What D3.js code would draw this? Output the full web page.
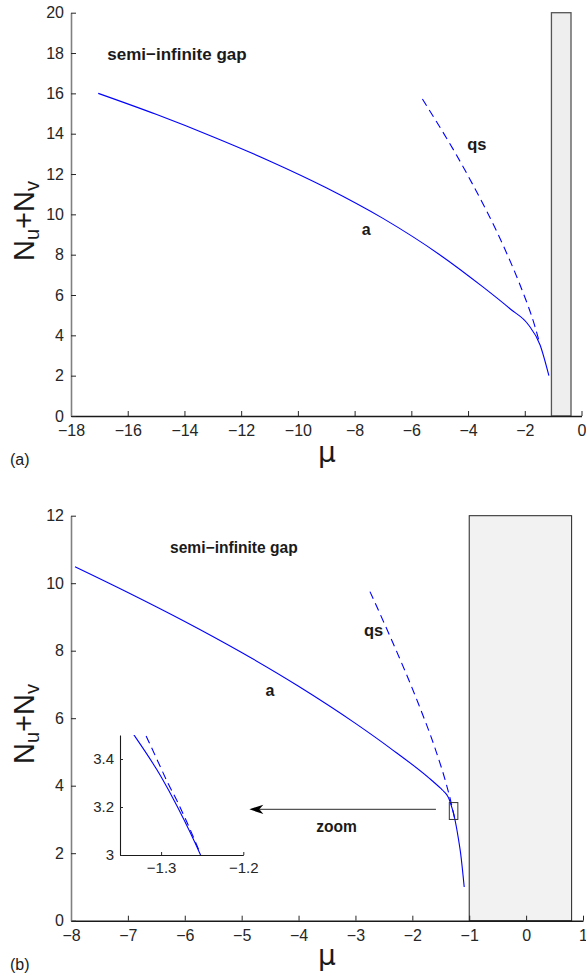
<!DOCTYPE html>
<html><head><meta charset="utf-8">
<script src="https://cdn.jsdelivr.net/npm/d3@7"></script>
<style>
body{margin:0;background:#fff}
svg{display:block}
text{font-family:"Liberation Sans",Arial,Helvetica,sans-serif}
</style></head><body>
<svg id="c" width="586" height="977"></svg>
<script>
// ---------------- data ----------------
const topXTicks = [-18,-16,-14,-12,-10,-8,-6,-4,-2,0];
const topYTicks = [0,2,4,6,8,10,12,14,16,18,20];
const botXTicks = [-8,-7,-6,-5,-4,-3,-2,-1,0,1];
const botYTicks = [0,2,4,6,8,10,12];
const insetXTicks = [-1.3,-1.2];
const insetYTicks = [3,3.2,3.4];

// panel (a)
const topA_mu  = [-17.04,-15,-13,-11,-9,-7,-5,-3.5,-2.5,-1.88,-1.46,-1.15];
const topA_N   = [16.0,14.96,13.85,12.65,11.32,9.80,8.0,6.425,5.295,4.54,3.52,2.0];
const topQS_mu = [-5.61,-4.05,-2.70,-2.19,-1.64,-1.47];
const topQS_N  = [15.72,12.04,8.27,6.58,4.43,3.58];
const topGapMu = [-1.06,-0.37];

// panel (b)
const botA_mu  = [-7.93,-7,-6,-5,-4,-3,-2.39,-1.7,-1.5,-1.44,-1.39,-1.36,-1.333,-1.3,-1.28,-1.252,-1.2,-1.15,-1.088];
const botA_N   = [10.49,9.727,8.867,7.947,6.947,5.847,5.115,4.218,3.918,3.82,3.72,3.63,3.5,3.326,3.2,3.0,2.53,1.98,1.0];
const botQS_mu = [-2.745,-2.4,-1.9,-1.6,-1.4,-1.33,-1.3147,-1.3039,-1.2918,-1.2798,-1.271,-1.262,-1.254];
const botQS_N  = [9.75,8.456,6.456,5.106,4.03,3.58,3.47,3.39,3.30,3.22,3.155,3.085,3.02];
const botGapMu = [-1,0.8];
const zoomMu = [-1.35,-1.2];
const zoomN  = [3,3.5];
const arrowMu = [-1.585,-4.865];
const arrowN = 3.3;

// ---------------- layout ----------------
const svg = d3.select("#c");
const blue = "#0000ff";
const tickColor = "#262626";

const xTop = d3.scaleLinear().domain([-18,0]).range([71,581.5]);
const yTop = d3.scaleLinear().domain([0,20]).range([416,12.7]);
const xBot = d3.scaleLinear().domain([-8,1]).range([71,583]);
const yBot = d3.scaleLinear().domain([0,12]).range([920.7,515.7]);
const xIn  = d3.scaleLinear().domain([-1.35,-1.2]).range([120,243.3]);
const yIn  = d3.scaleLinear().domain([3,3.5]).range([855,735]);

function zip(a,b){ return a.map((v,i)=>[v,b[i]]); }

function axes(g, x, y, xt, yt, fs, tickLen, xPad, yPad, yColor, yW, xColor, xW){
  const gx = g.append("g").attr("transform",`translate(0,${y.range()[0]})`)
    .call(d3.axisBottom(x).tickValues(xt).tickSizeInner(-tickLen).tickSizeOuter(0)
      .tickPadding(xPad).tickFormat(d3.format("")));
  const gy = g.append("g").attr("transform",`translate(${x.range()[0]},0)`)
    .call(d3.axisLeft(y).tickValues(yt).tickSizeInner(-tickLen).tickSizeOuter(0)
      .tickPadding(yPad).tickFormat(d3.format("")));
  [gx,gy].forEach(a=>{
    a.selectAll("text").attr("fill",tickColor).style("font-size",fs+"px")
      .style("font-family",'"Liberation Sans",Arial,sans-serif');
    a.selectAll(".tick line").attr("stroke",tickColor);
  });
  gx.select(".domain").attr("stroke",xColor).attr("stroke-width",xW);
  gy.select(".domain").attr("stroke",yColor).attr("stroke-width",yW);
}

function curve(g, x, y, mu, N, dash){
  const line = d3.line().x(d=>x(d[0])).y(d=>y(d[1])).curve(d3.curveMonotoneX);
  g.append("path").attr("d",line(zip(mu,N))).attr("fill","none")
    .attr("stroke",blue).attr("stroke-width",1.1)
    .attr("stroke-dasharray",dash?"8,5":null);
}

function label(g, x, y, txt, fs, bold, anchor){
  return g.append("text").attr("x",x).attr("y",y).text(txt)
    .attr("fill","#1a1a1a").style("font-size",fs+"px")
    .style("font-weight",bold?"bold":"normal")
    .attr("text-anchor",anchor||"start");
}

function yLabel(g, cx, cy){
  const t = g.append("text").attr("transform",`translate(${cx},${cy}) rotate(-90)`)
    .attr("text-anchor","middle").attr("fill","#1a1a1a").style("font-size","29px");
  t.append("tspan").text("N");
  t.append("tspan").text("u").style("font-size","20px").attr("dy",5);
  t.append("tspan").text("+").attr("dy",-5);
  t.append("tspan").text("N");
  t.append("tspan").text("v").style("font-size","20px").attr("dy",5);
}

// ---------------- panel (a) ----------------
const gA = svg.append("g");
gA.append("rect").attr("x",xTop(topGapMu[0])).attr("y",yTop(20))
  .attr("width",xTop(topGapMu[1])-xTop(topGapMu[0])).attr("height",yTop(0)-yTop(20))
  .attr("fill","#eeeeee").attr("stroke","#555").attr("stroke-width",1.3);
curve(gA,xTop,yTop,topA_mu,topA_N,false);
curve(gA,xTop,yTop,topQS_mu,topQS_N,true);
axes(gA,xTop,yTop,topXTicks,topYTicks,16,5,8.5,7,"#808080",1.6,"#1a1a1a",1.4);
label(gA,xTop(-16.72),yTop(17.67),"semi\u2212infinite gap",17,true);
label(gA,xTop(-7.75),yTop(8.98),"a",16,true);
label(gA,xTop(-4.03),yTop(13.2),"qs",16.5,true);
yLabel(gA,33.5,221);
gA.append("text").attr("x",327).attr("y",462).attr("text-anchor","middle")
  .style("font-size","28px").style("font-family","DejaVu Sans").attr("fill","#1a1a1a").text("\u03bc");
label(gA,10,465,"(a)",16,false);

// ---------------- panel (b) ----------------
const gB = svg.append("g");
gB.append("rect").attr("x",xBot(botGapMu[0])).attr("y",yBot(12))
  .attr("width",xBot(botGapMu[1])-xBot(botGapMu[0])).attr("height",yBot(0)-yBot(12))
  .attr("fill","#f2f2f2").attr("stroke","#222").attr("stroke-width",1);
curve(gB,xBot,yBot,botA_mu,botA_N,false);
curve(gB,xBot,yBot,botQS_mu,botQS_N,true);
axes(gB,xBot,yBot,botXTicks,botYTicks,16,5,8.5,7,"#808080",1.6,"#1a1a1a",1.4);
label(gB,xBot(-6.26),yBot(10.9),"semi\u2212infinite gap",15.6,true);
label(gB,xBot(-4.58),yBot(6.66),"a",16,true);
label(gB,xBot(-2.85),yBot(8.44),"qs",16.5,true);
label(gB,xBot(-3.69),yBot(2.64),"zoom",15.6,true);
yLabel(gB,33.5,724);
gB.append("text").attr("x",327).attr("y",965).attr("text-anchor","middle")
  .style("font-size","28px").style("font-family","DejaVu Sans").attr("fill","#1a1a1a").text("\u03bc");
label(gB,10,970,"(b)",16,false);

// zoom box
gB.append("rect").attr("x",xBot(zoomMu[0])).attr("y",yBot(zoomN[1]))
  .attr("width",xBot(zoomMu[1])-xBot(zoomMu[0])).attr("height",yBot(zoomN[0])-yBot(zoomN[1]))
  .attr("fill","none").attr("stroke","#333").attr("stroke-width",1);
// arrow
const ax0 = xBot(arrowMu[0]), ax1 = xBot(arrowMu[1]), ay = yBot(arrowN);
gB.append("line").attr("x1",ax0).attr("x2",ax1+10).attr("y1",ay).attr("y2",ay)
  .attr("stroke","#555").attr("stroke-width",1.3);
gB.append("path").attr("d",`M${ax1},${ay} L${ax1+14},${ay-4.7} L${ax1+10},${ay} L${ax1+14},${ay+4.7} Z`)
  .attr("fill","#000");

// inset
const gI = svg.append("g");
gI.append("rect").attr("x",120).attr("y",735).attr("width",123.3).attr("height",120).attr("fill","#fff");
svg.append("defs").append("clipPath").attr("id","ic").append("rect")
  .attr("x",xIn.range()[0]).attr("y",yIn.range()[1])
  .attr("width",xIn.range()[1]-xIn.range()[0]).attr("height",yIn.range()[0]-yIn.range()[1]);
const gIc = gI.append("g").attr("clip-path","url(#ic)");
curve(gIc,xIn,yIn,botA_mu,botA_N,false);
curve(gIc,xIn,yIn,botQS_mu,botQS_N,true);
axes(gI,xIn,yIn,insetXTicks,insetYTicks,15,3,7,6,"#1a1a1a",1.1,"#1a1a1a",1.1);
</script>
</body></html>
